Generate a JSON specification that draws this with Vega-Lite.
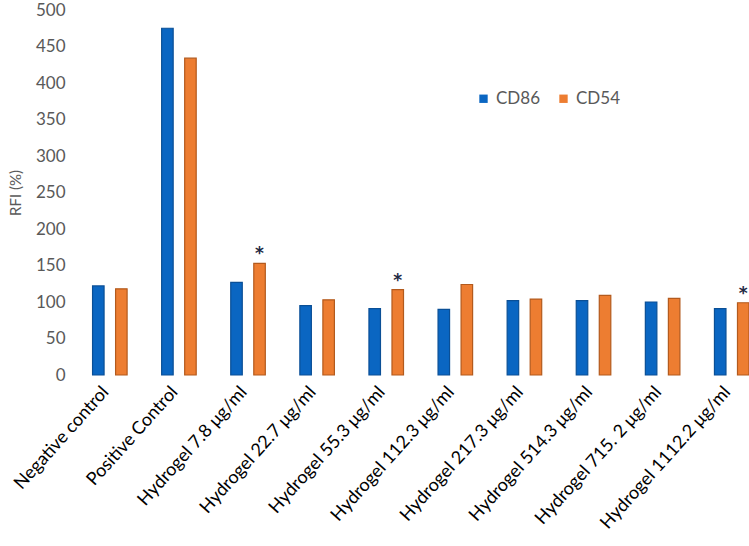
{
  "$schema": "https://vega.github.io/schema/vega-lite/v6.json",
  "width": 674,
  "height": 365,
  "autosize": {"type": "none"},
  "padding": {"left": 75, "top": 10, "right": 0, "bottom": 171},
  "background": "white",
  "config": {
    "view": {"stroke": null},
    "font": "Lato"
  },
  "data": {
    "values": [
      {"group": "Negative control", "marker": "CD86", "rfi": 122, "sig": false},
      {"group": "Negative control", "marker": "CD54", "rfi": 118, "sig": false},
      {"group": "Positive Control", "marker": "CD86", "rfi": 475, "sig": false},
      {"group": "Positive Control", "marker": "CD54", "rfi": 434, "sig": false},
      {"group": "Hydrogel 7.8 μg/ml", "marker": "CD86", "rfi": 127, "sig": false},
      {"group": "Hydrogel 7.8 μg/ml", "marker": "CD54", "rfi": 153, "sig": true},
      {"group": "Hydrogel 22.7 μg/ml", "marker": "CD86", "rfi": 95, "sig": false},
      {"group": "Hydrogel 22.7 μg/ml", "marker": "CD54", "rfi": 103, "sig": false},
      {"group": "Hydrogel 55.3 μg/ml", "marker": "CD86", "rfi": 91, "sig": false},
      {"group": "Hydrogel 55.3 μg/ml", "marker": "CD54", "rfi": 117, "sig": true},
      {"group": "Hydrogel 112.3 μg/ml", "marker": "CD86", "rfi": 90, "sig": false},
      {"group": "Hydrogel 112.3 μg/ml", "marker": "CD54", "rfi": 124, "sig": false},
      {"group": "Hydrogel 217.3 μg/ml", "marker": "CD86", "rfi": 102, "sig": false},
      {"group": "Hydrogel 217.3 μg/ml", "marker": "CD54", "rfi": 104, "sig": false},
      {"group": "Hydrogel 514.3 μg/ml", "marker": "CD86", "rfi": 102, "sig": false},
      {"group": "Hydrogel 514.3 μg/ml", "marker": "CD54", "rfi": 109, "sig": false},
      {"group": "Hydrogel 715. 2 μg/ml", "marker": "CD86", "rfi": 100, "sig": false},
      {"group": "Hydrogel 715. 2 μg/ml", "marker": "CD54", "rfi": 105, "sig": false},
      {"group": "Hydrogel 1112.2 μg/ml", "marker": "CD86", "rfi": 91, "sig": false},
      {"group": "Hydrogel 1112.2 μg/ml", "marker": "CD54", "rfi": 99, "sig": true}
    ]
  },
  "encoding": {
    "x": {
      "field": "group",
      "type": "nominal",
      "sort": null,
      "scale": {"paddingInner": 0.5, "paddingOuter": 0.127, "align": 1},
      "axis": {
        "title": null,
        "labelAngle": -48,
        "labelFontSize": 18,
        "labelColor": "#000000",
        "labelPadding": 14,
        "labelOffset": -4,
        "ticks": false,
        "domain": false,
        "labelLimit": 300
      }
    },
    "xOffset": {
      "field": "marker",
      "type": "nominal",
      "sort": ["CD86", "CD54"],
      "scale": {"paddingInner": 0.5, "paddingOuter": 0}
    },
    "y": {
      "field": "rfi",
      "type": "quantitative",
      "scale": {"domain": [0, 500], "nice": false},
      "axis": {
        "title": "RFI (%)",
        "titleFontSize": 15,
        "titleFontWeight": "normal",
        "titleColor": "#595959",
        "titlePadding": 12,
        "values": [0, 50, 100, 150, 200, 250, 300, 350, 400, 450, 500],
        "labelFontSize": 17,
        "labelColor": "#595959",
        "labelPadding": 10,
        "ticks": false,
        "domain": false,
        "grid": false
      }
    }
  },
  "layer": [
    {
      "mark": {"type": "bar", "strokeWidth": 1.2},
      "encoding": {
        "color": {
          "field": "marker",
          "type": "nominal",
          "scale": {"domain": ["CD86", "CD54"], "range": ["#0a66c2", "#ed7d31"]},
          "legend": {
            "title": null,
            "orient": "none",
            "legendX": 400,
            "legendY": 80,
            "direction": "horizontal",
            "symbolType": "square",
            "symbolSize": 70,
            "symbolStrokeWidth": 0,
            "labelFontSize": 17,
            "labelColor": "#595959",
            "columnPadding": 14
          }
        },
        "stroke": {
          "field": "marker",
          "type": "nominal",
          "scale": {"domain": ["CD86", "CD54"], "range": ["#0a4f96", "#b35a1d"]},
          "legend": null
        }
      }
    },
    {
      "transform": [{"filter": "datum.sig"}],
      "mark": {"type": "text", "text": "*", "font": "DejaVu Sans", "fontSize": 17, "fontWeight": "bold", "color": "#1f2a44", "baseline": "bottom", "dy": 0},
      "encoding": {}
    }
  ]
}
